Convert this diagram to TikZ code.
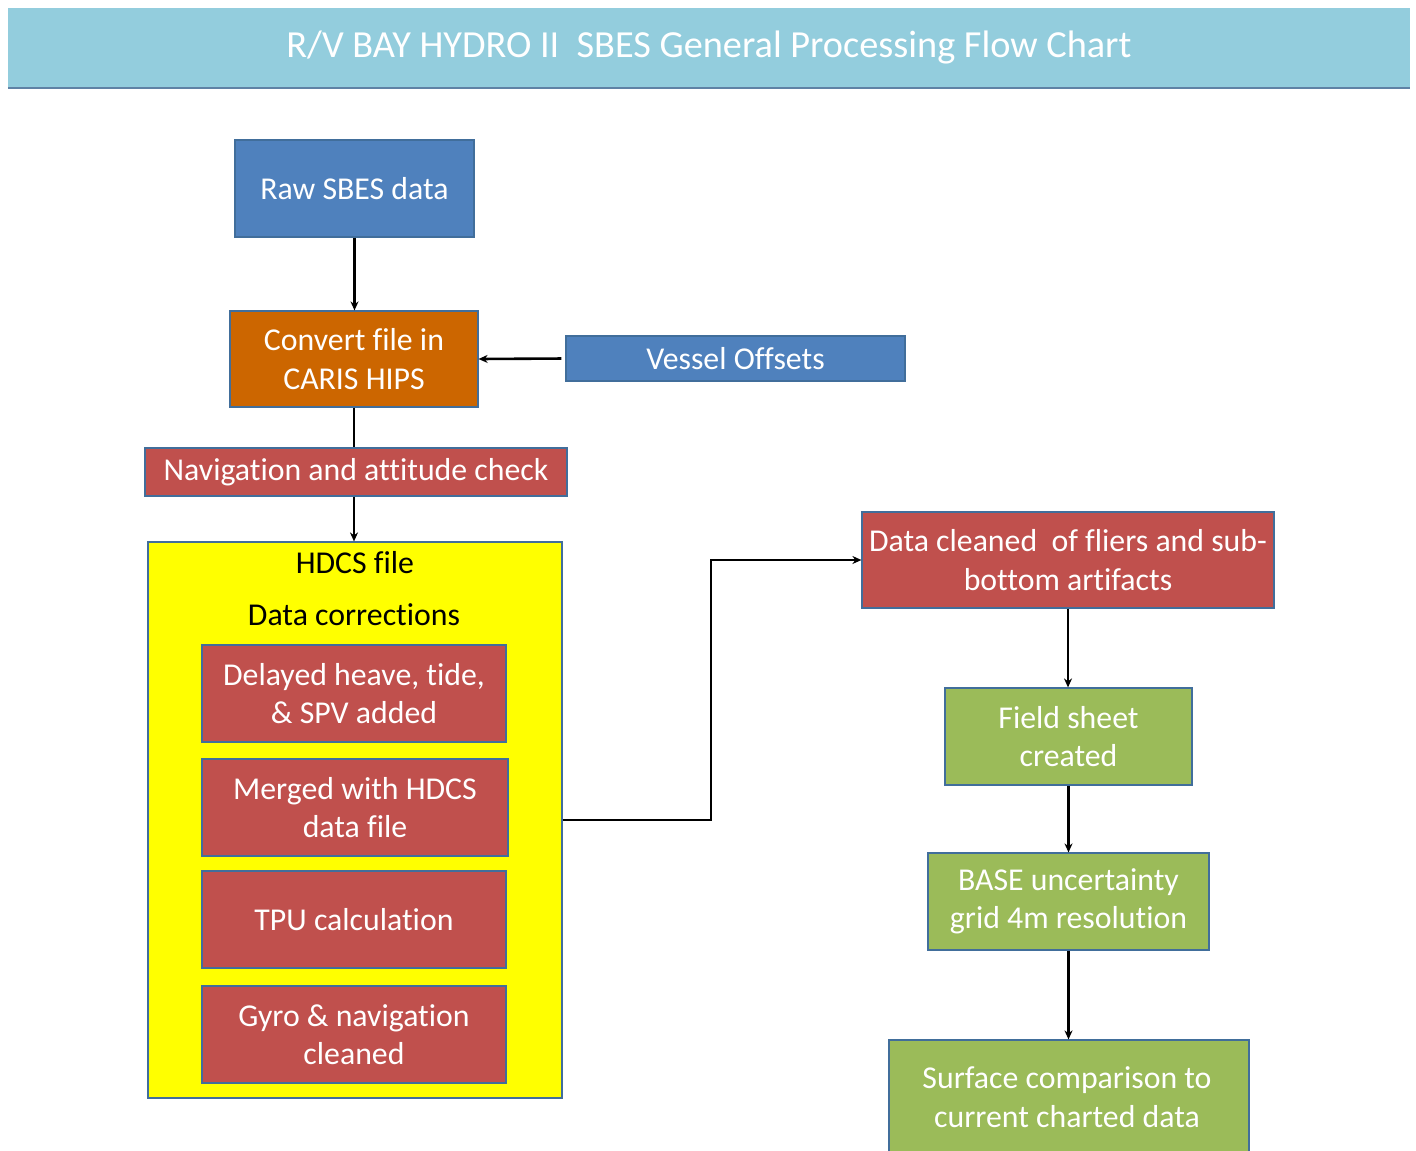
\documentclass[tikz,border=0pt]{standalone}
\usepackage{fontspec}
\setmainfont{Carlito}[RawFeature={-liga;-clig;-dlig;-rlig}]
\usetikzlibrary{arrows.meta}
\definecolor{titlebg}{RGB}{147,205,221}
\definecolor{titleline}{RGB}{95,130,165}
\definecolor{bblue}{RGB}{79,129,189}
\definecolor{borange}{RGB}{204,102,0}
\definecolor{bred}{RGB}{192,80,77}
\definecolor{bgreen}{RGB}{155,187,89}
\definecolor{bedge}{RGB}{65,110,155}
\definecolor{pureyellow}{RGB}{255,255,0}
\tikzset{
  box/.style={rectangle, draw=bedge, line width=1.2pt, text=white, align=center,
    inner sep=0pt, font=\fontsize{31.8}{38.5}\selectfont},
  bluebox/.style={box, fill=bblue},
  orangebox/.style={box, fill=borange},
  redbox/.style={box, fill=bred},
  greenbox/.style={box, fill=bgreen},
  yellowbox/.style={rectangle, draw=bedge, line width=1.2pt, fill=pureyellow, inner sep=0pt},
  darklabel/.style={text=black, font=\fontsize{31.8}{38.5}\selectfont, inner sep=0pt},
  conn/.style={line width=2.6pt, draw=black},
  arr/.style={conn, -{Stealth[length=9pt,width=8pt]}},
}
\begin{document}
\begin{tikzpicture}[x=1pt,y=-1pt]
\useasboundingbox[fill=white] (0,0) rectangle (1416,1151);
\begin{scope}
\clip (0,0) rectangle (1416,1151);
% title bar
\node[rectangle, fill=titlebg, minimum width=1402pt, minimum height=80pt, inner sep=0pt] (titlebar) at (709,48) {};
\draw[titleline, line width=2pt] (titlebar.south west) -- (titlebar.south east);
\node[text=white, font=\fontsize{38.3}{44}\selectfont, inner sep=0pt] (title) at (709,47) {R/V BAY HYDRO II\ \ SBES General Processing Flow Chart};

% left column
\node[bluebox, minimum width=239pt, minimum height=97pt] (raw) at (354.5,188.5) {Raw SBES data};
\node[orangebox, minimum width=248pt, minimum height=96pt] (conv) at (354,359) {Convert file in\\CARIS HIPS};
\node[bluebox, minimum width=339pt, minimum height=45pt] (vessel) at (735.5,358.5) {Vessel Offsets};
\node[redbox, minimum width=422pt, minimum height=48pt] (nav) at (356,472) {Navigation and attitude check};

\node[yellowbox, minimum width=414pt, minimum height=556pt] (hdcs) at (355,820) {};
\node[darklabel] (hdcsfile) at (355,563) {HDCS file};
\node[darklabel] (datacorr) at (354,615) {Data corrections};
\node[redbox, minimum width=304pt, minimum height=97pt] (delayed) at (354,693.5) {Delayed heave, tide,\\\&~SPV added};
\node[redbox, minimum width=306pt, minimum height=97pt] (merged) at (355,807.5) {Merged with HDCS\\data file};
\node[redbox, minimum width=304pt, minimum height=97pt] (tpu) at (354,919.5) {TPU calculation};
\node[redbox, minimum width=304pt, minimum height=97pt] (gyro) at (354,1034.5) {Gyro \& navigation\\cleaned};

% right column
\node[redbox, minimum width=412pt, minimum height=96pt] (clean) at (1068,560) {Data cleaned\ \ of fliers and sub-\\bottom artifacts};
\node[greenbox, minimum width=247pt, minimum height=97pt] (field) at (1068.5,736.5) {Field sheet\\created};
\node[greenbox, minimum width=281pt, minimum height=97pt] (base) at (1068.5,901.5) {BASE uncertainty\\grid 4m resolution};
\node[greenbox, minimum width=360pt, minimum height=130pt] (surf) at (1069,1105) {};
\node[text=white, align=center, font=\fontsize{31.8}{38.5}\selectfont, inner sep=0pt] (surftext) at (1067,1097) {Surface comparison to\\current charted data};

% connectors
\draw[arr] (raw.south) -- (raw.south |- conv.north);
\draw[arr, shorten <=4pt] (vessel.west) -- (conv.east);
\draw[conn] (conv.south) -- (conv.south |- nav.north);
\draw[arr] (nav.south -| conv.south) -- (conv.south |- hdcs.north);
\coordinate (bend) at (711,820);
\draw[arr] (hdcs.east) -- (bend) |- (clean.west);
\draw[arr] (clean.south) -- (clean.south |- field.north);
\draw[arr] (field.south) -- (field.south |- base.north);
\draw[arr] (base.south) -- (base.south |- surf.north);
\end{scope}
\end{tikzpicture}
\end{document}
